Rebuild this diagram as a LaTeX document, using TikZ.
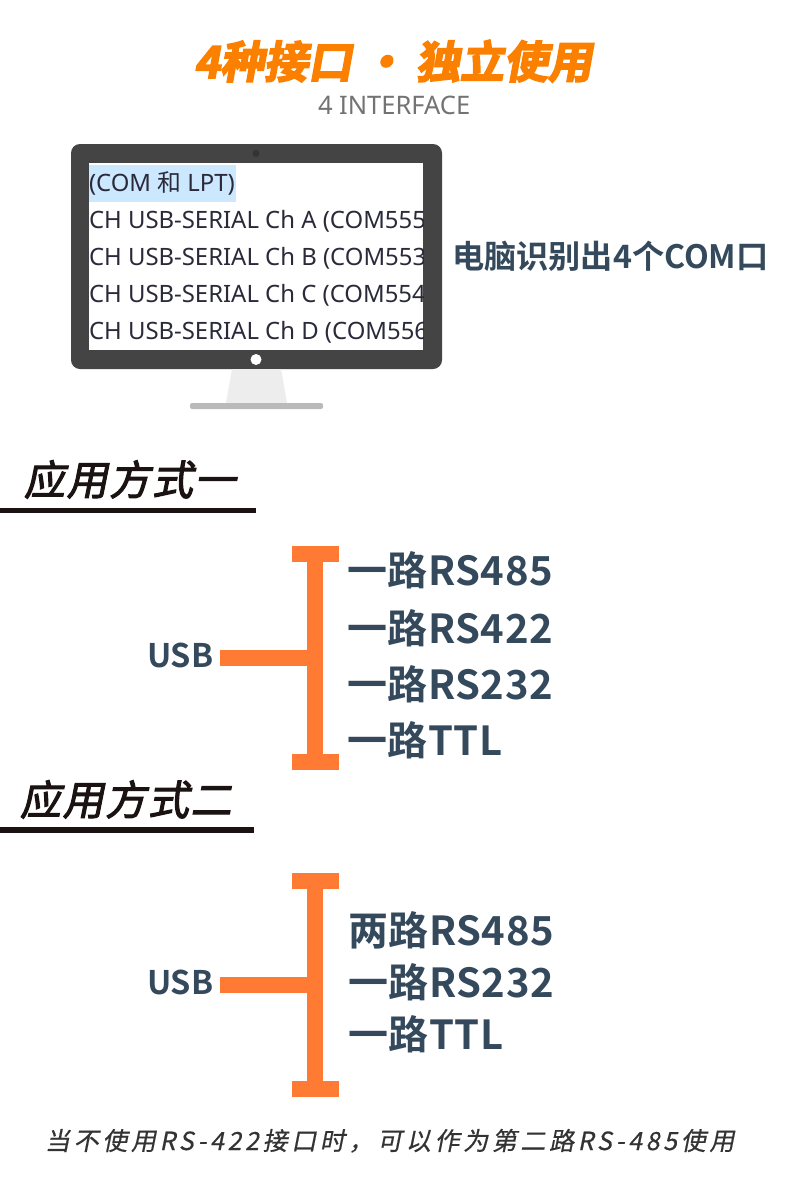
\documentclass[tikz,border=0pt]{standalone}
\usepackage{fontspec}
\setmainfont{Noto Sans}
\newfontfamily\cjkreg{Noto Sans CJK SC}
\newfontfamily\cjkbold{Noto Sans CJK SC Bold}
\newfontfamily\cjkitem[LetterSpace=1.5]{Noto Sans CJK SC Bold}
\newfontfamily\cjkhead[FakeSlant=0.2,FakeBold=2.5,LetterSpace=4]{Noto Sans CJK SC}
\newfontfamily\cjkfoot[FakeSlant=0.2,FakeBold=0.5,LetterSpace=14.6]{Noto Sans CJK SC}
\newfontfamily\cjktitle[FakeSlant=0.18,FakeBold=4]{Noto Sans CJK SC Bold}
\definecolor{orangebar}{HTML}{FF7A33}
\definecolor{titleor}{HTML}{FB8000}
\definecolor{slate}{HTML}{34495C}
\definecolor{bezel}{HTML}{444444}
\definecolor{hilite}{HTML}{CCE8FF}
\definecolor{headk}{HTML}{1A1311}
\definecolor{screentxt}{HTML}{2A2A3A}
\tikzset{
  txt/.style={inner sep=0pt,outer sep=0pt,anchor=base west},
  item/.style={txt,text=slate,font=\cjkitem\fontsize{40}{40}\selectfont},
  usb/.style={txt,text=slate,font=\cjkbold\fontsize{32.5}{33}\selectfont},
  head/.style={txt,text=headk,font=\cjkhead\fontsize{41}{41}\selectfont},
  screenline/.style={txt,text=screentxt,font=\fontsize{23.9}{24}\selectfont},
  bar/.style={draw=orangebar,line width=16pt},
  rule/.style={fill=headk,draw=none},
}
\begin{document}
\begin{tikzpicture}[x=1pt,y=-1pt]
\useasboundingbox (0,0) rectangle (790,1200);
\fill[white] (0,0) rectangle (790,1200);
% title
\node[txt,text=titleor,font=\cjktitle\fontsize{44}{44}\selectfont] (title) at (194,78) {4种接口 · 独立使用};
\node[txt,text=black!55,font=\fontsize{25.5}{26}\selectfont] (sub) at (318,114) {4 INTERFACE};
% monitor
\fill[bezel,rounded corners=9pt] (71,144) rectangle (442,369);
\fill[white] (89,163) rectangle (423,350);
\fill[hilite] (89,165) rectangle (236,202);
\fill[black!80] (256,153.5) circle (3.5);
\fill[white] (256,359.5) circle (5.5);
\fill[black!7] (232,369) -- (281,369) -- (287,403) -- (226,403) -- cycle;
\fill[black!27,rounded corners=2pt] (190,403) rectangle (323,409);
\begin{scope}
\clip (89,163) rectangle (423,350);
\node[screenline] (s0) at (89,191) {(COM {\cjkreg 和} LPT)};
\node[screenline] (s1) at (89,228) {CH USB-SERIAL Ch A (COM555)};
\node[screenline] (s2) at (89,265) {CH USB-SERIAL Ch B (COM553)};
\node[screenline] (s3) at (89,302) {CH USB-SERIAL Ch C (COM554)};
\node[screenline] (s4) at (89,339) {CH USB-SERIAL Ch D (COM556)};
\end{scope}
\node[txt,text=slate,font=\cjkbold\fontsize{32.2}{32}\selectfont] (pc) at (452,268) {电脑识别出4个COM口};
% mode one
\node[head] (h1) at (24,495) {应用方式一};
\fill[rule] (0,508) rectangle (256,513);
\coordinate (t1a) at (292,554); \coordinate (t1b) at (339,554);
\coordinate (b1a) at (292,762); \coordinate (b1b) at (339,762);
\coordinate (v1a) at (315,546); \coordinate (v1b) at (315,770);
\coordinate (u1a) at (220,658); \coordinate (u1b) at (315,658);
\draw[bar] (t1a) -- (t1b);
\draw[bar] (b1a) -- (b1b);
\draw[bar] (v1a) -- (v1b);
\draw[bar] (u1a) -- (u1b);
\node[usb] (usb1) at (147,667) {USB};
\node[item] (i11) at (347,585) {一路RS485};
\node[item] (i12) at (347,643) {一路RS422};
\node[item] (i13) at (347,699) {一路RS232};
\node[item] (i14) at (347,755) {一路TTL};
% mode two
\node[head] (h2) at (20,815) {应用方式二};
\fill[rule] (0,827) rectangle (254,833);
\coordinate (t2a) at (292,881); \coordinate (t2b) at (339,881);
\coordinate (b2a) at (292,1089); \coordinate (b2b) at (339,1089);
\coordinate (v2a) at (315,873); \coordinate (v2b) at (315,1097);
\coordinate (u2a) at (220,985); \coordinate (u2b) at (315,985);
\draw[bar] (t2a) -- (t2b);
\draw[bar] (b2a) -- (b2b);
\draw[bar] (v2a) -- (v2b);
\draw[bar] (u2a) -- (u2b);
\node[usb] (usb2) at (147,994) {USB};
\node[item] (i21) at (348,945) {两路RS485};
\node[item] (i22) at (348,997) {一路RS232};
\node[item] (i23) at (348,1049) {一路TTL};
% footer
\node[txt,text=black!80,font=\cjkfoot\fontsize{25}{25}\selectfont] (foot) at (45,1150) {当不使用RS-422接口时，可以作为第二路RS-485使用};
\end{tikzpicture}
\end{document}
